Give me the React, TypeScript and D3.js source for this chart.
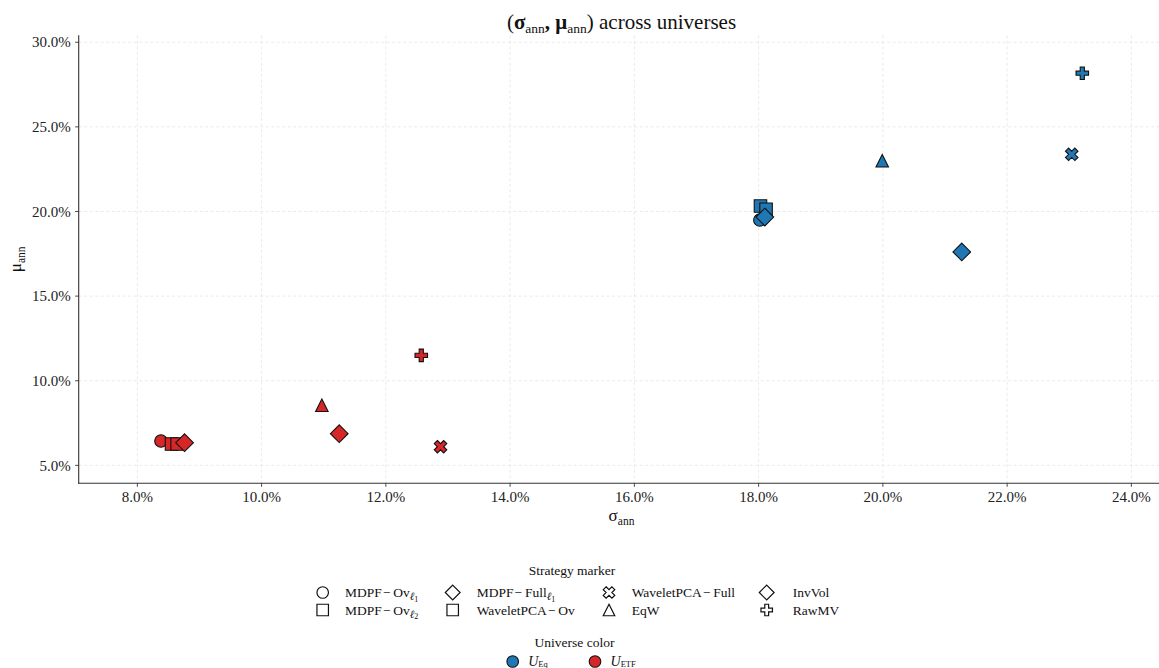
import React from "react";
import * as d3 from "d3";

// Strategies in legend order (column-major, 4 columns x 2 rows)
const strategies = [
  "MDPF-Ov-l1",
  "MDPF-Ov-l2",
  "MDPF-Full-l1",
  "WaveletPCA-Ov",
  "WaveletPCA-Full",
  "EqW",
  "InvVol",
  "RawMV",
];
const markers = ["circle", "square", "diamond", "square", "x", "triangle", "diamond", "plus"];

const universes = ["Eq", "ETF"];
const universeColors = ["#1f77b4", "#d62728"];

// Annualised volatility / return, in percent, per strategy (same order as strategies)
const sigmaEq = [18.02, 18.03, 18.1, 18.12, 23.04, 19.99, 21.27, 23.21];
const muEq = [19.5, 20.32, 19.67, 20.13, 23.38, 23.0, 17.61, 28.17];
const sigmaEtf = [8.38, 8.55, 8.76, 8.64, 12.88, 10.97, 11.25, 12.57];
const muEtf = [6.44, 6.26, 6.34, 6.26, 6.1, 8.55, 6.87, 11.5];

// paint order inside each universe: squares below the overlapping diamond
const drawOrder = [0, 1, 3, 2, 4, 5, 6, 7];

const xTicks = [8, 10, 12, 14, 16, 18, 20, 22, 24];
const yTicks = [5, 10, 15, 20, 25, 30];

const W = 1159;
const H = 668;
const FONT = "'Liberation Serif', 'DejaVu Serif', serif";

const x = d3.scaleLinear().domain([7.056, 24.53]).range([78.7, 1164.3]);
const y = d3.scaleLinear().domain([3.94, 30.41]).range([483.3, 35.3]);

function markerPath(kind: string, u: number): string {
  const h = u / 2;
  switch (kind) {
    case "circle":
      return `M${h},0A${h},${h},0,1,1,${-h},0A${h},${h},0,1,1,${h},0Z`;
    case "square":
      return `M${-h},${-h}L${h},${-h}L${h},${h}L${-h},${h}Z`;
    case "diamond": {
      const d = h * Math.SQRT2;
      return `M0,${-d}L${d},0L0,${d}L${-d},0Z`;
    }
    case "triangle":
      return `M0,${-h}L${h},${h}L${-h},${h}Z`;
    case "plus": {
      const pts = [[-1, -3], [1, -3], [1, -1], [3, -1], [3, 1], [1, 1], [1, 3], [-1, 3], [-1, 1], [-3, 1], [-3, -1], [-1, -1]];
      return "M" + pts.map(([a, b]) => `${(a / 6) * u},${(b / 6) * u}`).join("L") + "Z";
    }
    case "x": {
      const pts = [[-1, -2], [0, -1], [1, -2], [2, -1], [1, 0], [2, 1], [1, 2], [0, 1], [-1, 2], [-2, 1], [-1, 0], [-2, -1]];
      return "M" + pts.map(([a, b]) => `${(a / 4) * u},${(b / 4) * u}`).join("L") + "Z";
    }
  }
  return "";
}

function StrategyLabel({ i }: { i: number }) {
  const minus = "\u200A\u2212\u2009";
  const sub = (n: string) => (
    <>
      <tspan fontStyle="italic" fontSize={11} dy={3}>ℓ</tspan>
      <tspan fontSize={8} dy={1.5}>{n}</tspan>
    </>
  );
  switch (i) {
    case 0:
      return <>MDPF{minus}Ov{sub("1")}</>;
    case 1:
      return <>MDPF{minus}Ov{sub("2")}</>;
    case 2:
      return <>MDPF{minus}Full{sub("1")}</>;
    case 3:
      return <>WaveletPCA{minus}Ov</>;
    case 4:
      return <>WaveletPCA{minus}Full</>;
    default:
      return <>{strategies[i]}</>;
  }
}

export default function App() {
  const series = [
    { sigma: sigmaEq, mu: muEq },
    { sigma: sigmaEtf, mu: muEtf },
  ];
  const plotTop = y.range()[1];
  const plotBottom = y.range()[0];
  const plotLeft = x.range()[0];
  const plotRight = x.range()[1];
  const markerUnit = 12.5;

  const legendCols = [322.7, 452.7, 609, 766.7];
  const legendTextX = [345, 476.7, 631.7, 792.7];
  const legendRows = [592.5, 610];

  return (
    <svg
      width={W}
      height={H}
      style={{ position: "absolute", left: 0, top: 0, background: "#fff" }}
      fontFamily={FONT}
    >
      <rect width={W} height={H} fill="#fff" />
      {/* grid */}
      <g stroke="#e4e4e4" strokeWidth={0.8} strokeDasharray="3,2.5">
        {xTicks.map((t) => (
          <line key={"gx" + t} x1={x(t)} x2={x(t)} y1={plotTop} y2={plotBottom} />
        ))}
        {yTicks.map((t) => (
          <line key={"gy" + t} x1={plotLeft} x2={plotRight} y1={y(t)} y2={y(t)} />
        ))}
      </g>

      {/* points */}
      {series.map((s, ui) =>
        drawOrder.map((i) => (
          <path
            key={ui + "-" + i}
            d={markerPath(markers[i], markerUnit)}
            transform={`translate(${x(s.sigma[i])},${y(s.mu[i])})`}
            fill={universeColors[ui]}
            stroke="#111"
            strokeWidth={1.1}
            strokeLinejoin="miter"
          />
        ))
      )}

      {/* spines */}
      <g stroke="#333" strokeWidth={1.1}>
        <line x1={plotLeft} x2={plotLeft} y1={plotTop} y2={plotBottom + 0.5} />
        <line x1={plotLeft - 0.5} x2={plotRight} y1={plotBottom} y2={plotBottom} />
      </g>

      {/* x ticks */}
      {xTicks.map((t) => (
        <g key={"xt" + t} transform={`translate(${x(t)},${plotBottom})`}>
          <line y1={0} y2={3.5} stroke="#333" strokeWidth={0.9} />
          <text y={18.5} textAnchor="middle" fontSize={15} fill="#222">
            {t.toFixed(1) + "%"}
          </text>
        </g>
      ))}
      {/* y ticks */}
      {yTicks.map((t) => (
        <g key={"yt" + t} transform={`translate(${plotLeft},${y(t)})`}>
          <line x1={0} x2={-3.5} stroke="#333" strokeWidth={0.9} />
          <text x={-8} dy="0.35em" textAnchor="end" fontSize={15} fill="#222">
            {t.toFixed(1) + "%"}
          </text>
        </g>
      ))}

      {/* title */}
      <text x={621.5} y={29} textAnchor="middle" fontSize={21} fill="#111">
        (<tspan fontWeight="bold">σ</tspan>
        <tspan fontSize={13.5} dy={4}>ann</tspan>
        <tspan fontWeight="bold" dy={-4}>, μ</tspan>
        <tspan fontSize={13.5} dy={4}>ann</tspan>
        <tspan dy={-4}>) across universes</tspan>
      </text>

      {/* axis labels */}
      <text x={621.5} y={521} textAnchor="middle" fontSize={17} fill="#111">
        σ<tspan fontSize={11.5} dy={3.5}>ann</tspan>
      </text>
      <text
        transform={`translate(21,${(plotTop + plotBottom) / 2}) rotate(-90)`}
        textAnchor="middle"
        fontSize={17}
        fill="#111"
      >
        μ<tspan fontSize={11.5} dy={3.5}>ann</tspan>
      </text>

      {/* strategy legend */}
      <text x={572} y={575} textAnchor="middle" fontSize={13.5} fill="#111">
        Strategy marker
      </text>
      {strategies.map((_, i) => {
        const col = Math.floor(i / 2);
        const row = i % 2;
        return (
          <g key={"leg" + i}>
            <path
              d={markerPath(markers[i], markers[i] === "diamond" ? 10.5 : 11.5)}
              transform={`translate(${legendCols[col]},${legendRows[row]})`}
              fill="#fff"
              stroke="#111"
              strokeWidth={1.2}
            />
            <text x={legendTextX[col]} y={legendRows[row] + 4.5} fontSize={13.5} fill="#111">
              <StrategyLabel i={i} />
            </text>
          </g>
        );
      })}

      {/* universe legend */}
      <text x={574.5} y={646.5} textAnchor="middle" fontSize={13.5} fill="#111">
        Universe color
      </text>
      {universes.map((u, ui) => {
        const cx = ui === 0 ? 512.7 : 595;
        return (
          <g key={"uleg" + u}>
            <circle cx={cx} cy={661.5} r={5.8} fill={universeColors[ui]} stroke="#111" strokeWidth={1.1} />
            <text x={cx + 15.5} y={665.5} fontSize={14} fill="#111">
              <tspan fontStyle="italic">U</tspan>
              <tspan fontSize={8.5} dy={1.5}>{u === "Eq" ? "Eq" : "ETF"}</tspan>
            </text>
          </g>
        );
      })}
    </svg>
  );
}
